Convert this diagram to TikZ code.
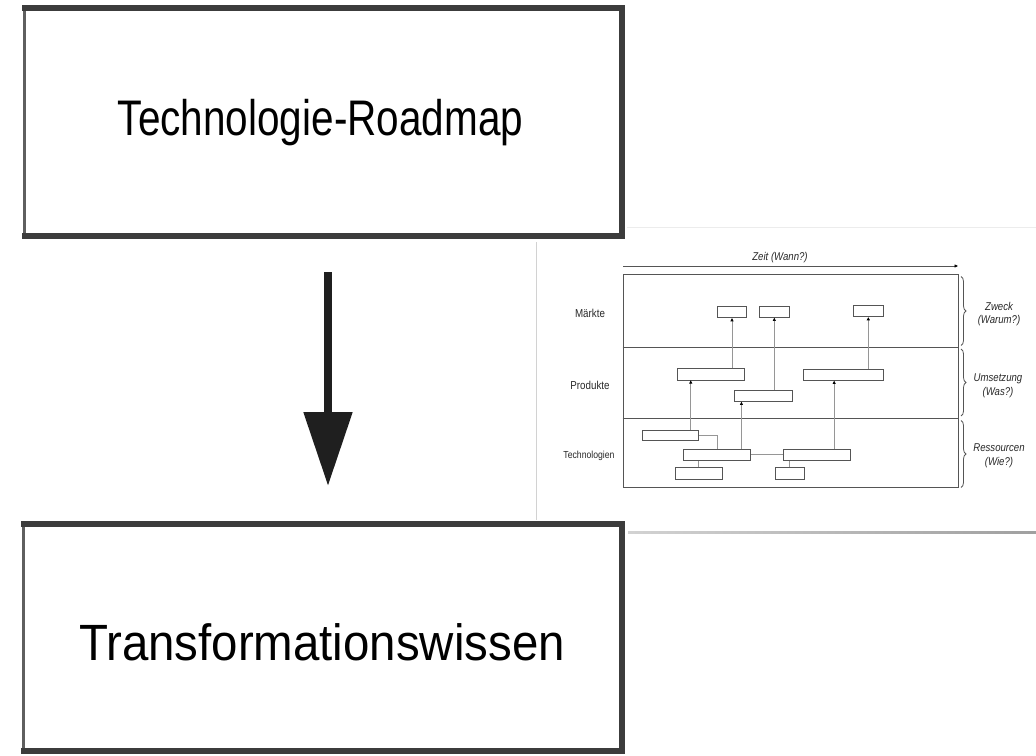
\documentclass[tikz,border=0pt]{standalone}
\usepackage{fontspec}
\setmainfont{Liberation Sans}
\newfontfamily\condfont[FakeStretch=0.81]{Liberation Sans}
\newfontfamily\arialn[FakeStretch=0.93]{Liberation Sans}
\newfontfamily\robo[FakeStretch=0.85]{Liberation Sans}
\usetikzlibrary{arrows.meta,decorations.pathreplacing,calc}
\definecolor{rim}{RGB}{60,60,60}
\definecolor{rimlight}{RGB}{95,95,95}
\definecolor{rmline}{RGB}{85,85,85}
\definecolor{rmconn}{RGB}{150,150,150}
\definecolor{rmtext}{RGB}{40,40,40}
\tikzset{
  bigbox/.style={inner sep=0pt},
  rimthick/.style={draw=rim, line width=5.5pt, line cap=rect},
  rimthin/.style={draw=rimlight, line width=3pt},
  rbox/.style={draw=rmline, line width=0.8pt, fill=white, inner sep=0pt},
  uparr/.style={draw=rmconn, line width=0.7pt, -{Triangle[length=3.2pt,width=3pt,black]}},
  conn/.style={draw=rmconn, line width=0.7pt},
  lane/.style={font=\robo\fontsize{11.5}{13}\selectfont, text=rmtext},
  lanesm/.style={font=\robo\fontsize{10.2}{12}\selectfont, text=rmtext},
  side/.style={font=\robo\itshape\fontsize{11.3}{13.4}\selectfont, text=rmtext, align=center},
  brc/.style={draw=rmline, line width=0.8pt, decorate, decoration={brace, amplitude=5pt}},
}
\begin{document}
\begin{tikzpicture}[x=1pt, y=-1pt]
\useasboundingbox (0,0) rectangle (1036,755);
\fill[white] (0,0) rectangle (1036,755);

% panel borders of the roadmap picture
\draw[gray!35, line width=0.8pt] (536,242) -- (536,520);
\draw[gray!15, line width=0.6pt] (627,227) -- (1036,227);
\shade[left color=gray!35, right color=gray!75] (628,531.6) rectangle (1036,533.6);

% big boxes
\node[bigbox, minimum width=597pt, minimum height=228pt] (top) at (323.5,122) {};
\draw[rimthin] (top.north west) -- (top.south west);
\draw[rimthick] (top.north west) -- (top.north east) -- (top.south east) -- (top.south west);
\node[font=\condfont\fontsize{50}{60}\selectfont, anchor=base] (toptxt) at (320.5,135) {Technologie-Roadmap};

\node[bigbox, minimum width=598pt, minimum height=227pt] (bot) at (323,637.5) {};
\draw[rimthin] (bot.north west) -- (bot.south west);
\draw[rimthick] (bot.north west) -- (bot.north east) -- (bot.south east) -- (bot.south west);
\node[font=\arialn\fontsize{51}{60}\selectfont, anchor=base] (bottxt) at (322,660) {Transformationswissen};

% hand drawn arrow
\coordinate (as) at (328,272);
\coordinate (ae) at (328,486);
\draw[black!88, line width=8.5pt, -{Triangle[length=74pt,width=47pt]}] (as) -- (ae);

% roadmap
\coordinate (ta) at (623,266);
\coordinate (tb) at (958,266);
\draw[rmline, line width=0.7pt, -{Triangle[length=3.5pt,width=3pt,black]}] (ta) -- (tb);
\node[side, anchor=base] (zeit) at (780,260) {Zeit (Wann?)};

\node[draw=rmline, line width=0.8pt, minimum width=335pt, minimum height=213pt, inner sep=0pt] (frame) at (790.5,380.7) {};
\draw[rmline, line width=0.8pt] (frame.west |- 0,347) coordinate (d1l) -- (frame.east |- 0,347) coordinate (d1r);
\draw[rmline, line width=0.8pt] (frame.west |- 0,418.3) coordinate (d2l) -- (frame.east |- 0,418.3) coordinate (d2r);

\node[lane] (lm) at (590,313) {Märkte};
\node[lane] (lp) at (590,385.7) {Produkte};
\node[lanesm] (lt) at (589,455.7) {Technologien};

% boxes
\node[rbox, minimum width=29.4pt, minimum height=11pt] (M1) at (732,312.2) {};
\node[rbox, minimum width=30pt, minimum height=11.3pt] (M2) at (774.3,311.7) {};
\node[rbox, minimum width=30pt, minimum height=11pt] (M3) at (868.3,311.2) {};
\node[rbox, minimum width=67.4pt, minimum height=11.3pt] (P1) at (711,374.3) {};
\node[rbox, minimum width=58pt, minimum height=11.3pt] (P2) at (763.3,395.7) {};
\node[rbox, minimum width=79.6pt, minimum height=11pt] (P3) at (843.5,374.8) {};
\node[rbox, minimum width=56.4pt, minimum height=10.4pt] (T1) at (670.5,435.5) {};
\node[rbox, minimum width=67.4pt, minimum height=11.7pt] (T2) at (717,454.8) {};
\node[rbox, minimum width=67.3pt, minimum height=11.7pt] (T3) at (816.7,454.8) {};
\node[rbox, minimum width=46.7pt, minimum height=11.3pt] (T4) at (698.7,473.3) {};
\node[rbox, minimum width=29.7pt, minimum height=11.3pt] (T5) at (789.8,473.3) {};

% connectors
\draw[uparr] (M1.south |- P1.north) -- (M1.south);
\draw[uparr] (M2.south |- P2.north) -- (M2.south);
\draw[uparr] (M3.south |- P3.north) -- (M3.south);
\draw[uparr] ([xshift=-8.4pt]T1.north east) -- ([xshift=-8.4pt]T1.north east |- P1.south);
\draw[uparr] ([xshift=-9.7pt]T2.north east) -- ([xshift=-9.7pt]T2.north east |- P2.south);
\draw[uparr] ([xshift=-16.6pt]T3.north east) -- ([xshift=-16.6pt]T3.north east |- P3.south);
\draw[conn] (T1.east) -| (T2.north);
\draw[conn] (T2.east) -- (T3.west);
\draw[conn] (T4.north) -- (T4.north |- T2.south);
\draw[conn] (T5.north) -- (T5.north |- T3.south);

% braces
\coordinate (b1t) at (961,276.5);
\coordinate (b1b) at (961,345.5);
\coordinate (b2t) at (961,349);
\coordinate (b2b) at (961,416);
\coordinate (b3t) at (961,420.5);
\coordinate (b3b) at (961,487.5);
\draw[brc] (b1t) -- (b1b);
\draw[brc] (b2t) -- (b2b);
\draw[brc] (b3t) -- (b3b);
\node[side] (s1) at (999,314.3) {Zweck\\(Warum?)};
\node[side] (s2) at (998,385.8) {Umsetzung\\(Was?)};
\node[side] (s3) at (999,455.8) {Ressourcen\\(Wie?)};
\end{tikzpicture}
\end{document}
